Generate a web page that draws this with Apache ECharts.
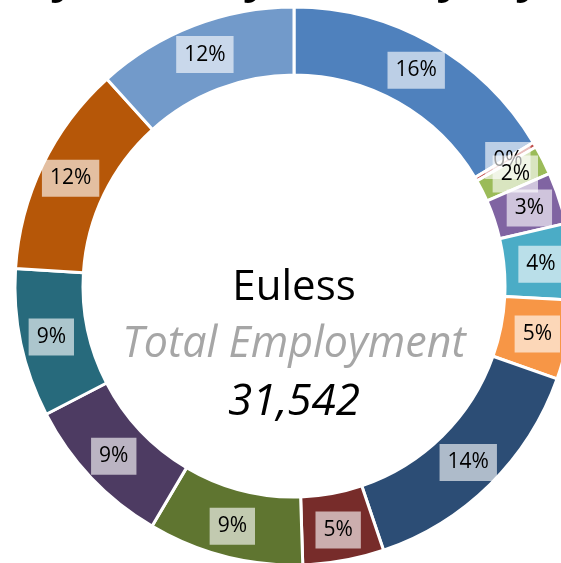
<!DOCTYPE html>
<html>
<head>
    <meta http-equiv="Content-Type" content="text/html; charset=utf-8"/>
    <title>Euless Total Employment</title>
    <script src="https://cdn.jsdelivr.net/npm/echarts@6/dist/echarts.min.js"></script>
    <style>
        html, body { margin: 0; padding: 0; background: #fff; }
        #main { width: 561px; height: 563px; }
    </style>
</head>
<body>
<div id="main"></div>
<script type="text/javascript">
    // shares of total employment, clockwise from 12 o'clock
    var industries = ['Ind 1', 'Ind 2', 'Ind 3', 'Ind 4', 'Ind 5', 'Ind 6', 'Ind 7',
        'Ind 8', 'Ind 9', 'Ind 10', 'Ind 11', 'Ind 12', 'Ind 13'];
    var shares = [16.4, 0.3, 1.7, 3.0, 4.4, 4.6, 14.4, 4.7, 9.0, 8.9, 8.6, 12.3, 11.7];
    var colors = ['#4F81BD', '#C0504D', '#9BBB59', '#8064A2', '#4BACC6', '#F79646',
        '#2C4D75', '#772C2A', '#5F7530', '#4D3B62', '#276A7C', '#B65708', '#729ACA'];
    var cityName = 'Euless';
    var subTitle = 'Total Employment';
    var totalJobs = '31,542';

    var pieData = [];
    for (var i = 0; i < shares.length; i++) {
        pieData.push({name: industries[i], value: shares[i], itemStyle: {color: colors[i]}});
    }

    var chart = echarts.init(document.getElementById('main'));
    chart.setOption({
        animation: false,
        graphic: [
            {
                type: 'text', left: 'center', top: -44,
                style: {text: 'Employment (by Industry) by City', font: 'italic bold 46px "Open Sans"', fill: '#000'}
            },
            {
                type: 'text', x: 294, y: 288,
                style: {text: cityName, font: '42px "Open Sans"', fill: '#000', align: 'center', verticalAlign: 'middle'}
            },
            {
                type: 'text', x: 294, y: 345,
                style: {text: subTitle, font: 'italic 43px "Open Sans"', fill: '#A6A6A6', align: 'center', verticalAlign: 'middle'}
            },
            {
                type: 'text', x: 294, y: 402,
                style: {text: totalJobs, font: 'italic 44px "Open Sans"', fill: '#000', align: 'center', verticalAlign: 'middle'}
            }
        ],
        series: [{
            type: 'pie',
            center: [294, 286],
            radius: [211, 279],
            startAngle: 90,
            clockwise: true,
            avoidLabelOverlap: false,
            minShowLabelAngle: 0,
            labelLayout: {hideOverlap: false},
            itemStyle: {borderColor: '#fff', borderWidth: 3},
            label: {
                show: true,
                position: 'inside',
                formatter: function (p) { return Math.round(p.value) + '%'; },
                color: '#000',
                fontFamily: 'Open Sans',
                fontSize: 21,
                backgroundColor: 'rgba(255,255,255,0.62)',
                padding: [8, 8]
            },
            labelLine: {show: false},
            emphasis: {disabled: true},
            data: pieData
        }]
    });
</script>
</body>
</html>
